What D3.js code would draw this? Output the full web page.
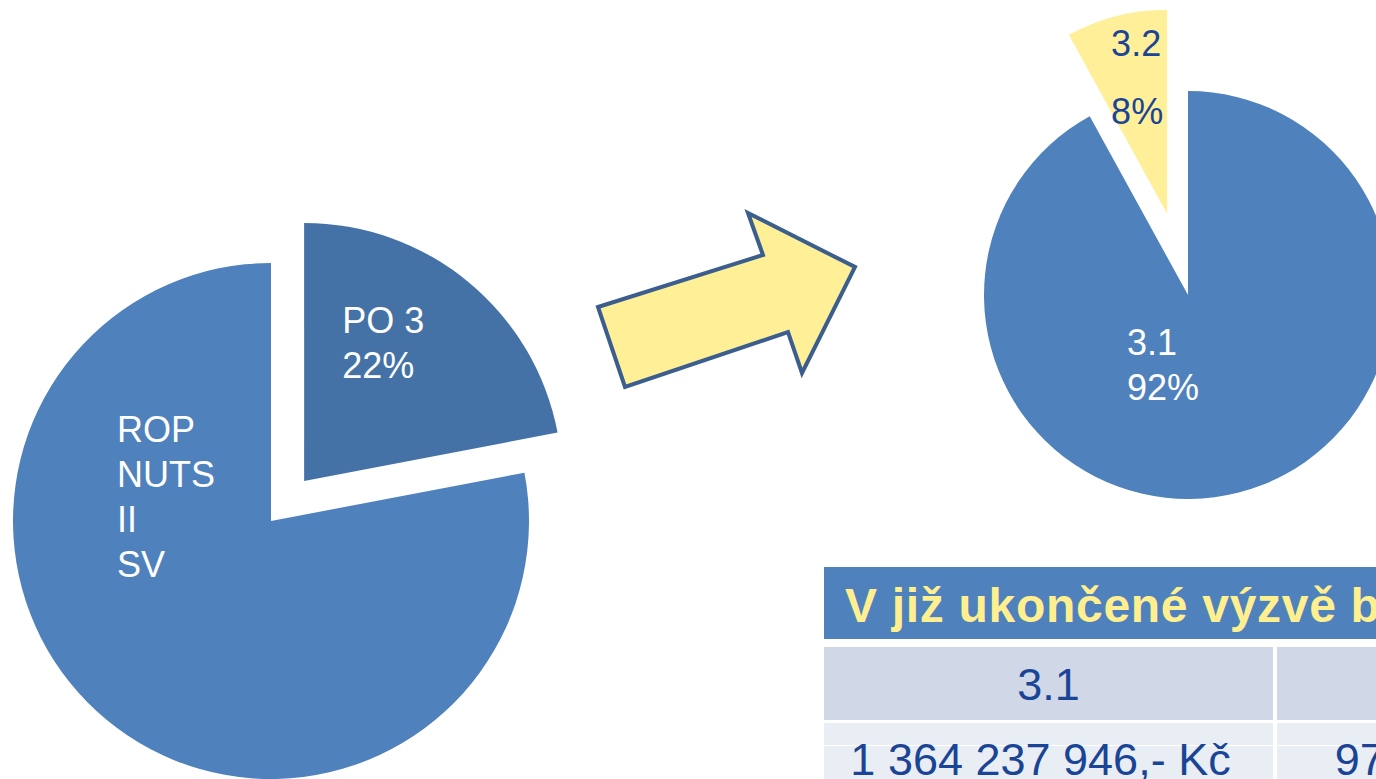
<!DOCTYPE html>
<html>
<head>
<meta charset="utf-8">
<script src="https://cdn.jsdelivr.net/npm/d3@7"></script>
<style>
  html, body { margin: 0; padding: 0; background: #fff; overflow: hidden; }
  svg { display: block; font-family: "Liberation Sans", Arial, sans-serif; }
</style>
</head>
<body>
<div id="chart"></div>
<script>
// data for the two pies
var leftNames = ["PO 3", "ROP NUTS II SV"];
var leftValues = [22, 78];
var rightNames = ["3.1", "3.2"];
var rightValues = [92, 8];

// table
var tableTitle = "V již ukončené výzvě bude podpořeno";
var tableHead = ["3.1", "3.2"];
var tableAmounts = ["1 364 237 946,- Kč", "97 381 228,- Kč"];

var W = 1376, H = 779;

var svg = d3.select("#chart").append("svg")
        .attr("width", W)
        .attr("height", H);

var pie = d3.pie().sort(null).value(function(d) { return d.value; });

function drawPie(cx, cy, r, names, values, opts) {
        var data = names.map(function(n, i) { return { name: n, value: values[i] }; });
        var arcs = pie(data);
        var arc = d3.arc().innerRadius(0).outerRadius(r);
        var g = svg.append("g").attr("transform", "translate(" + cx + "," + cy + ")");

        arcs.forEach(function(a, i) {
                var off = opts.explode[i] || 0;
                var mid = (a.startAngle + a.endAngle) / 2;
                var dx = Math.sin(mid) * off, dy = -Math.cos(mid) * off;
                var sg = g.append("g").attr("transform", "translate(" + dx + "," + dy + ")");
                sg.append("path")
                        .attr("d", arc(a))
                        .attr("fill", opts.colors[i]);

                // label, lines stacked
                var lab = opts.labels[i];
                var t = sg.append("text")
                        .attr("x", lab.x)
                        .attr("y", lab.y)
                        .attr("fill", lab.color)
                        .style("font-size", "36px");
                lab.lines.forEach(function(line, k) {
                        t.append("tspan")
                                .attr("x", lab.x)
                                .attr("dy", k == 0 ? 0 : lab.lh)
                                .text(line);
                        });
                });
        }

// left pie
drawPie(271, 521, 258, leftNames, leftValues, {
        colors: ["#4472A7", "#4F81BD"],
        explode: [52, 0],
        labels: [
                { x: 38, y: -148, lh: 45, color: "#fff", lines: [leftNames[0], leftValues[0] + "%"] },
                { x: -154, y: -79, lh: 45, color: "#fff", lines: ["ROP", "NUTS", "II", "SV"] }
                ]
        });

// right pie
drawPie(1188, 295, 204, rightNames, rightValues, {
        colors: ["#4F81BD", "#FFEF99"],
        explode: [0, 84],
        labels: [
                { x: -61, y: 60, lh: 45, color: "#fff", lines: [rightNames[0], rightValues[0] + "%"] },
                { x: -56, y: -158, lh: 68, color: "#1A4495", lines: [rightNames[1], rightValues[1] + "%"] }
                ]
        });

// arrow between the pies
var arrowPts = [[598, 307], [763, 255], [748, 213], [855, 267], [802, 373], [788, 332], [625, 387]];
svg.append("polygon")
        .attr("points", arrowPts.map(function(p) { return p.join(","); }).join(" "))
        .attr("fill", "#FFEF96")
        .attr("stroke", "#3B5E8E")
        .attr("stroke-width", 4)
        .attr("stroke-linejoin", "miter");

// table
var tx = 824, colW = 449, gap = 4;
var tg = svg.append("g");

tg.append("rect")
        .attr("x", tx).attr("y", 567)
        .attr("width", colW * 2 + gap).attr("height", 72)
        .attr("fill", "#4F81BD");
tg.append("text")
        .attr("x", 845).attr("y", 622)
        .attr("fill", "#FFEF8F")
        .style("font-size", "48px")
        .style("letter-spacing", "0.7px")
        .style("font-weight", "bold")
        .text(tableTitle);

var colX = d3.scaleBand().domain([0, 1]).range([tx, tx + colW * 2 + gap]).paddingInner(gap / (colW + gap));

tableHead.forEach(function(h, i) {
        tg.append("rect")
                .attr("x", colX(i)).attr("y", 647)
                .attr("width", colX.bandwidth()).attr("height", 73)
                .attr("fill", "#D0D8E8");
        tg.append("text")
                .attr("x", colX(i) + colX.bandwidth() / 2).attr("y", 700)
                .attr("text-anchor", "middle")
                .attr("fill", "#1A4495")
                .style("font-size", "45px")
                .text(h);
        });

tableAmounts.forEach(function(a, i) {
        tg.append("rect")
                .attr("x", colX(i)).attr("y", 723)
                .attr("width", colX.bandwidth()).attr("height", 60)
                .attr("fill", "#E9EDF4");
        tg.append("line")
                .attr("x1", colX(i)).attr("x2", colX(i) + colX.bandwidth())
                .attr("y1", 745.5).attr("y2", 745.5)
                .attr("stroke", "#fff").attr("stroke-width", 1);
        tg.append("text")
                .attr("x", colX(i) + colX.bandwidth() / 2 - 8).attr("y", 775)
                .attr("text-anchor", "middle")
                .attr("fill", "#1A4495")
                .style("font-size", "45px")
                .text(a);
        });
</script>
</body>
</html>
